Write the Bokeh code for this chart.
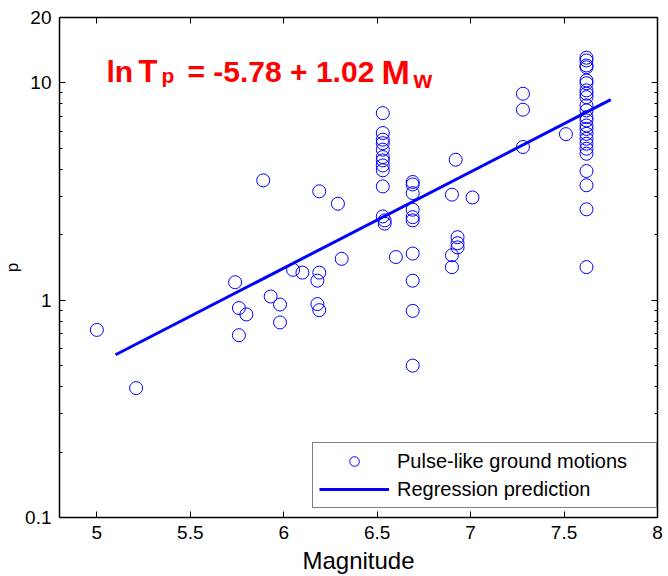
from bokeh.plotting import figure
from bokeh.models import (ColumnDataSource, FixedTicker, LinearAxis, LogAxis, Range1d,
                          CustomJSTickFormatter, Label, Legend, LegendItem)
from bokeh.embed import file_html
from bokeh.resources import INLINE

# ---------------- data ----------------
magnitude = [
    5.00, 5.21, 5.74, 5.76, 5.76, 5.80, 5.89, 5.93, 5.98, 5.98,
    6.05, 6.10, 6.18, 6.19, 6.18, 6.19, 6.19, 6.29, 6.31,
    6.53, 6.53, 6.53, 6.53, 6.53, 6.53, 6.53, 6.53, 6.53, 6.53, 6.53, 6.54, 6.54,
    6.60,
    6.69, 6.69, 6.69, 6.69, 6.69, 6.69, 6.69, 6.69, 6.69, 6.69,
    6.92, 6.90, 7.01, 6.93, 6.93, 6.93, 6.90, 6.90,
    7.28, 7.28, 7.28, 7.51,
    7.62, 7.62, 7.62, 7.62, 7.62, 7.62, 7.62, 7.62, 7.62, 7.62, 7.62, 7.62,
    7.62, 7.62, 7.62, 7.62, 7.62, 7.62, 7.62, 7.62, 7.62, 7.62, 7.62, 7.62,
]
period = [
    0.73, 0.394, 1.21, 0.92, 0.69, 0.86, 3.56, 1.04, 0.955, 0.79,
    1.38, 1.34, 1.23, 1.34, 0.96, 0.90, 3.17, 2.78, 1.55,
    7.26, 5.88, 5.48, 5.28, 4.93, 4.56, 4.40, 4.17, 3.96, 3.34, 2.43, 2.33, 2.25,
    1.58,
    3.50, 3.41, 3.11, 2.61, 2.41, 2.33, 1.64, 1.23, 0.893, 0.50,
    4.43, 3.06, 2.97, 1.95, 1.83, 1.75, 1.61, 1.42,
    8.92, 7.53, 5.07, 5.81,
    13.06, 12.69, 12.03, 11.80, 10.26, 9.97, 9.24, 8.92, 8.60, 7.88, 7.47, 6.96,
    6.72, 6.37, 6.14, 5.83, 5.53, 5.25, 4.98, 4.72, 3.93, 3.38, 2.62, 1.42,
]
line_mag = [5.10, 7.75]
line_period = [0.561, 8.37]

x_ticks = [5, 5.5, 6, 6.5, 7, 7.5, 8]
y_ticks = [0.1, 1, 10, 20]
y_minor = [0.2, 0.3, 0.4, 0.5, 0.6, 0.7, 0.8, 0.9, 2, 3, 4, 5, 6, 7, 8, 9]

legend_labels = ["Pulse-like ground motions", "Regression prediction"]
x_title = "Magnitude"
y_title = "p"

FONT = "Liberation Sans"
BLUE = "#0000ff"

p = figure(width=668, height=576, output_backend="svg", toolbar_location=None,
           y_axis_type="log", x_range=Range1d(4.8, 8), y_range=Range1d(0.1, 20),
           min_border_left=59, min_border_right=11, min_border_top=17, min_border_bottom=58,
           x_axis_location=None, y_axis_location=None)
p.xgrid.visible = False
p.ygrid.visible = False
p.outline_line_color = "black"
p.outline_line_width = 1
p.background_fill_color = "white"
p.border_fill_color = "white"

num_fmt = CustomJSTickFormatter(code="return String(Math.round(tick*100)/100);")
blank_fmt = CustomJSTickFormatter(code="return '';")

def style(ax, labels, standoff=9):
    ax.axis_line_color = "black"
    ax.axis_line_width = 1.5
    ax.major_tick_in = 6
    ax.major_tick_out = 0
    ax.minor_tick_in = 3
    ax.minor_tick_out = 0
    ax.major_tick_line_color = "black"
    ax.minor_tick_line_color = "black"
    ax.major_label_text_font = FONT
    ax.major_label_text_font_size = "19px"
    ax.major_label_text_color = "black"
    ax.major_label_standoff = standoff
    ax.formatter = num_fmt if labels else blank_fmt

xb = LinearAxis(ticker=FixedTicker(ticks=x_ticks))
style(xb, True, 8)
xb.axis_label = x_title
xb.axis_label_text_font = FONT
xb.axis_label_text_font_size = "24px"
xb.axis_label_text_font_style = "normal"
xb.axis_label_text_color = "black"
xb.axis_label_text_line_height = 0.7
xb.axis_label_standoff = 5
xt = LinearAxis(ticker=FixedTicker(ticks=x_ticks))
style(xt, False)
yl = LogAxis(ticker=FixedTicker(ticks=y_ticks, minor_ticks=y_minor))
style(yl, True, 8)
yl.axis_label = y_title
yl.axis_label_text_font = FONT
yl.axis_label_text_font_size = "17px"
yl.axis_label_text_font_style = "normal"
yl.axis_label_text_color = "black"
yl.axis_label_standoff = 0
yr = LogAxis(ticker=FixedTicker(ticks=y_ticks, minor_ticks=y_minor))
style(yr, False)
p.add_layout(xb, "below")
p.add_layout(xt, "above")
p.add_layout(yl, "left")
p.add_layout(yr, "right")

pts = ColumnDataSource(dict(m=magnitude, t=period))
src_line = ColumnDataSource(dict(m=line_mag, t=line_period))
r_pts = p.scatter("m", "t", source=pts, marker="circle", size=13,
                  line_color=BLUE, fill_color=None, line_width=1)
r_line = p.line("m", "t", source=src_line, line_color=BLUE, line_width=3)

legend = Legend(items=[LegendItem(label=legend_labels[0], renderers=[r_pts]),
                       LegendItem(label=legend_labels[1], renderers=[r_line])],
                location=(253, 9), margin=0, padding=6, spacing=4,
                glyph_width=70, glyph_height=24, label_standoff=8, label_width=253,
                label_text_font=FONT, label_text_font_size="20px",
                label_text_color="black", label_height=24,
                border_line_color="black", border_line_width=1,
                background_fill_color="white", background_fill_alpha=1)
p.add_layout(legend)

# title equation (red, bold) pieces
def lab(text, x, y, size):
    p.add_layout(Label(x=x, y=y, x_units="screen", y_units="screen", text=text,
                       text_font=FONT, text_font_size=size, text_font_style="bold",
                       text_color="red", text_baseline="alphabetic"))

lab("ln", 47, 446, "30px")
lab("T", 79, 446, "31px")
lab("p", 102, 442, "21px")
lab("= -5.78 + 1.02", 128, 446, "30px")
lab("M", 322, 446, "34px")
lab("w", 354, 438, "24px")

open("out.html", "w").write(file_html(p, INLINE))
